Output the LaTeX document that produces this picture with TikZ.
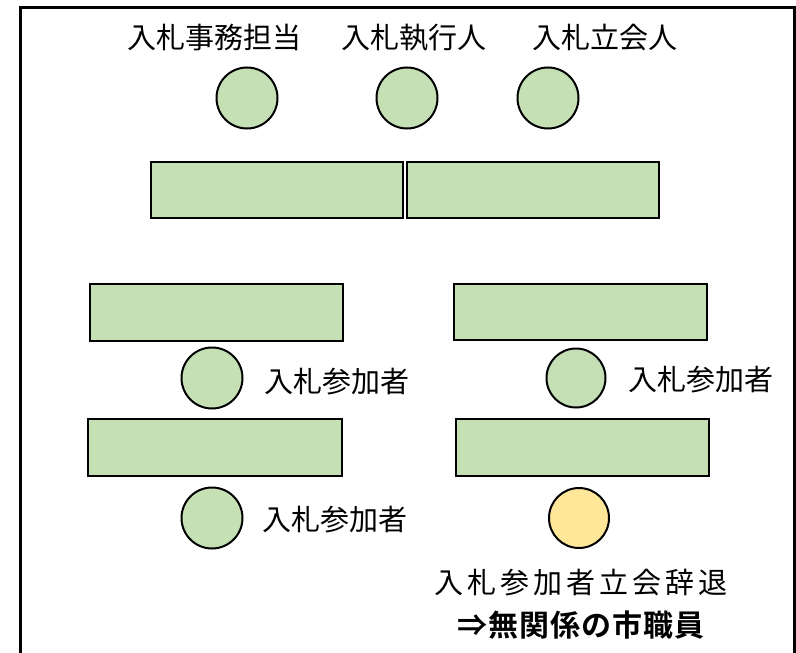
\documentclass[tikz,border=0pt]{standalone}
\usepackage{fontspec}
\setmainfont{Noto Sans CJK JP}
\newfontfamily\jp{Noto Sans CJK JP}
\newfontfamily\jpwide[LetterSpace=14]{Noto Sans CJK JP}
\newfontfamily\jpbold[LetterSpace=3]{Noto Sans CJK JP Bold}
\definecolor{fillgreen}{HTML}{C5E0B4}
\definecolor{fillyellow}{HTML}{FFE699}
\begin{document}
\begin{tikzpicture}[x=1pt,y=-1pt,
  seat/.style={circle,draw=black,line width=2pt,fill=fillgreen,minimum size=61pt,inner sep=0pt},
  desk/.style={rectangle,draw=black,line width=2pt,fill=fillgreen,minimum width=252pt,minimum height=56pt,inner sep=0pt},
  lbl/.style={inner sep=0pt,font=\fontsize{29}{34}\selectfont\jp}]
\useasboundingbox (0,0) rectangle (796,653);
\node[draw=black,line width=3pt,minimum width=774pt,minimum height=680pt,inner sep=0pt,anchor=north west] (frame) at (19,6) {};
% top labels
\node[lbl] (t1) at (214.5,38) {入札事務担当};
\node[lbl] (t2) at (413.5,38) {入札執行人};
\node[lbl] (t3) at (604.5,38) {入札立会人};
% top seats
\node[seat] (c1) at (247,98) {};
\node[seat] (c2) at (407,98) {};
\node[seat] (c3) at (548,98) {};
% top desks
\node[desk] (d1) at (277,190) {};
\node[desk] (d2) at (533,190) {};
% left column
\node[desk,minimum width=253pt,minimum height=57pt] (ml1) at (216.5,312.5) {};
\node[seat] (cl1) at (212,378) {};
\node[lbl,anchor=west] (ll1) at (264,382) {入札参加者};
\node[desk,minimum width=254pt,minimum height=57pt] (ml2) at (215,447.5) {};
\node[seat] (cl2) at (212,518) {};
\node[lbl,anchor=west] (ll2) at (262,520) {入札参加者};
% right column
\node[desk,minimum width=253pt] (mr1) at (580.5,312) {};
\node[seat,minimum size=59pt] (cr1) at (576,378) {};
\node[lbl,anchor=west] (lr1) at (628,380) {入札参加者};
\node[desk,minimum width=253pt,minimum height=57pt] (mr2) at (582.5,447.5) {};
\node[seat,minimum size=60pt,fill=fillyellow] (cy) at (579,518) {};
\node[inner sep=0pt,font=\fontsize{29}{34}\selectfont\jpwide] (lw1) at (581,583) {入札参加者立会辞退};
\node[inner sep=0pt,font=\fontsize{30}{34}\selectfont\jpbold] (lw2) at (581,625) {⇒無関係の市職員};
\end{tikzpicture}
\end{document}
